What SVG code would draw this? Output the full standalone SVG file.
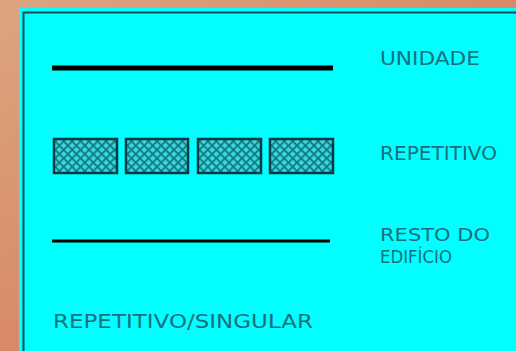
<svg xmlns="http://www.w3.org/2000/svg" width="516" height="351" viewBox="0 0 516 351">
<defs>
<linearGradient id="bg" x1="0" y1="0" x2="1" y2="1">
<stop offset="0" stop-color="#dca580"/>
<stop offset="0.5" stop-color="#d98a68"/>
<stop offset="1" stop-color="#d6785a"/>
</linearGradient>
<pattern id="hatch" width="6" height="6" patternUnits="userSpaceOnUse" patternTransform="rotate(45)">
<rect width="6" height="6" fill="#3ad8dc"/>
<rect width="6" height="1.8" fill="#127a86"/>
<rect width="1.8" height="6" fill="#127a86"/>
</pattern>
<style>
.t{font-family:"DejaVu Sans","Liberation Sans",sans-serif;font-size:19.5px;fill:#17707e}
.s{font-size:18.5px}
.hb{fill:url(#hatch);stroke:#0e3a48;stroke-width:2.5}
</style>
</defs>
<rect width="516" height="351" fill="url(#bg)"/>
<rect x="19" y="8" width="497" height="343" fill="#00ffff"/>
<path d="M23.5 351 V12.5 H516" fill="none" stroke="#174a52" stroke-width="2"/>
<g id="unidade">
<line x1="52" y1="68" x2="333" y2="68" stroke="#000" stroke-width="5"/>
<text class="t" x="380" y="65" textLength="100" lengthAdjust="spacingAndGlyphs">UNIDADE</text>
</g>
<g id="repetitivo">
<rect class="hb" x="54" y="139" width="63" height="34"/>
<rect class="hb" x="126" y="139" width="62" height="34"/>
<rect class="hb" x="198" y="139" width="63" height="34"/>
<rect class="hb" x="270" y="139" width="63" height="34"/>
<text class="t" x="380" y="160" textLength="117" lengthAdjust="spacingAndGlyphs">REPETITIVO</text>
</g>
<g id="resto">
<line x1="52" y1="241" x2="330" y2="241" stroke="#000" stroke-width="3"/>
<text class="t s" x="380" y="241" textLength="110" lengthAdjust="spacingAndGlyphs">RESTO DO</text>
<text class="t s" x="380" y="263" textLength="72" lengthAdjust="spacingAndGlyphs">EDIFÍCIO</text>
</g>
<g id="legenda">
<text class="t" x="53" y="328" textLength="260" lengthAdjust="spacingAndGlyphs">REPETITIVO/SINGULAR</text>
</g>
</svg>
